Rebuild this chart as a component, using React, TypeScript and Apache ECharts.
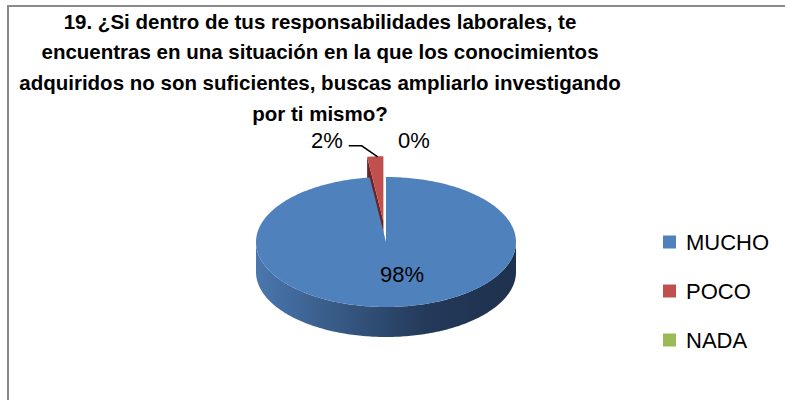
import React, { useEffect, useRef } from 'react';
import * as echarts from 'echarts';

const titleLines = [
  '19. ¿Si dentro de tus responsabilidades laborales, te',
  'encuentras en una situación en la que los conocimientos',
  'adquiridos no son suficientes, buscas ampliarlo investigando',
  'por ti mismo?',
];
const categories = ['MUCHO', 'POCO', 'NADA'];
const values = [98, 2, 0];
const topColors = ['#4f81bd', '#c0504d', '#9bbb59'];

const CX = 386;
const CY = 242;
const RX = 130;
const RY = 65;
const DEPTH = 30;
const FONT = '"Liberation Sans", Arial, sans-serif';

export default function App() {
  const ref = useRef<HTMLDivElement>(null);
  useEffect(() => {
    document.body.style.margin = '0';
    const chart = echarts.init(ref.current!, null, { renderer: 'svg' });
    const total = values.reduce((a, b) => a + b, 0);
    const starts: number[] = [];
    const ends: number[] = [];
    let acc = 0;
    values.forEach((v) => {
      starts.push((acc / total) * 360);
      acc += v;
      ends.push((acc / total) * 360);
    });
    const rad = (d: number) => (d * Math.PI) / 180;
    const pt = (a: number, dx: number, dy: number, h: number, r = 1) => [
      CX + dx + RX * r * Math.sin(rad(a)),
      CY + dy - RY * r * Math.cos(rad(a)) + h,
    ];
    const arc = (a0: number, a1: number, dx: number, dy: number, h: number) => {
      const pts: number[][] = [];
      const n = Math.max(2, Math.ceil(Math.abs(a1 - a0)));
      for (let k = 0; k <= n; k++) pts.push(pt(a0 + ((a1 - a0) * k) / n, dx, dy, h));
      return pts;
    };
    const pct = (v: number) => Math.round((v / total) * 100) + '%';

    const renderSlice = (i: number) => () => {
      const a0 = starts[i];
      const a1 = ends[i];
      const mid = (a0 + a1) / 2;
      const frac = values[i] / total;
      const explode = frac > 0 && frac < 0.05 ? 0.32 : 0;
      const dx = RX * explode * Math.sin(rad(mid));
      const dy = -RY * explode * Math.cos(rad(mid));
      const children: any[] = [];
      const labelStyle = { font: `22px ${FONT}`, fill: '#000' };
      if (a1 > a0) {
        // outer side (front half only)
        const s = Math.max(a0, 90);
        const e = Math.min(a1, 270);
        if (e > s) {
          const top = arc(s, e, dx, dy, 0);
          const bot = arc(s, e, dx, dy, DEPTH).reverse();
          children.push({
            type: 'polygon',
            shape: { points: top.concat(bot) },
            style: {
              fill:
                i === 0
                  ? new echarts.graphic.LinearGradient(1, 0, 0, 0, [
                      { offset: 0, color: '#1e314d' },
                      { offset: 0.35, color: '#243a5a' },
                      { offset: 0.7, color: '#385b87' },
                      { offset: 1, color: '#4a77ae' },
                    ])
                  : '#8b2f2d',
            },
          });
        }
        const cTop = [CX + dx, CY + dy];
        const cBot = [CX + dx, CY + dy + DEPTH];
        if (Math.sin(rad(a0)) < -1e-6) {
          children.push({
            type: 'polygon',
            shape: { points: [cTop, pt(a0, dx, dy, 0), pt(a0, dx, dy, DEPTH), cBot] },
            style: { fill: i === 0 ? '#2c4870' : '#6b2422' },
          });
        }
        if (Math.sin(rad(a1)) > 1e-6) {
          children.push({
            type: 'polygon',
            shape: { points: [cTop, pt(a1, dx, dy, 0), pt(a1, dx, dy, DEPTH), cBot] },
            style: { fill: i === 0 ? '#2c4870' : '#6b2422' },
          });
        }
        children.push({
          type: 'polygon',
          shape: { points: [cTop].concat(arc(a0, a1, dx, dy, 0)) },
          style: { fill: topColors[i] },
        });
      }
      if (frac >= 0.05) {
        const lp = pt(mid, dx, dy, 0, 0.5);
        children.push({
          type: 'text',
          x: lp[0] + 12,
          y: lp[1],
          style: { ...labelStyle, text: pct(values[i]), align: 'center', verticalAlign: 'middle' },
        });
      } else if (frac > 0) {
        const o = pt(mid, dx, dy, 0);
        const end = [o[0] + 2.5, o[1] + 0.5];
        const elbow = [end[0] - 16, end[1] - 11];
        const start = [elbow[0] - 13, elbow[1]];
        children.push({
          type: 'polyline',
          shape: { points: [start, elbow, end] },
          style: { stroke: '#000', lineWidth: 1.5, fill: null },
        });
        children.push({
          type: 'text',
          x: start[0] - 6,
          y: start[1] - 5,
          style: { ...labelStyle, text: pct(values[i]), align: 'right', verticalAlign: 'middle' },
        });
      } else {
        const o = pt(a0, 0, 0, 0);
        children.push({
          type: 'text',
          x: o[0] + 12,
          y: o[1] - 36.5,
          style: { ...labelStyle, text: pct(values[i]), align: 'left', verticalAlign: 'middle' },
        });
      }
      return { type: 'group', children };
    };

    const zOrder = [3, 1, 2];
    chart.setOption({
      animation: false,
      backgroundColor: '#fff',
      legend: {
        orient: 'vertical',
        left: 663,
        top: 230,
        padding: 0,
        itemWidth: 13,
        itemHeight: 13,
        itemGap: 25,
        icon: 'rect',
        data: categories,
        textStyle: { fontSize: 22, fontFamily: FONT, color: '#000', lineHeight: 24, padding: [0, 0, 0, 5] },
      },
      graphic: [
        {
          type: 'rect',
          shape: { x: 8, y: 6, width: 800, height: 420 },
          style: { fill: null, stroke: '#8a8a8a', lineWidth: 2 },
          silent: true,
        },
        ...titleLines.map((t, k) => ({
          type: 'text',
          x: 320,
          y: 21 + 30.7 * k,
          style: {
            text: t,
            font: `bold 20.5px ${FONT}`,
            fill: '#000',
            align: 'center',
            verticalAlign: 'middle',
          },
        })),
      ],
      series: categories.map((name, i) => ({
        type: 'custom',
        name,
        coordinateSystem: 'none',
        z: zOrder[i],
        itemStyle: { color: topColors[i] },
        data: [values[i]],
        renderItem: renderSlice(i),
        silent: true,
      })),
    });
    return () => chart.dispose();
  }, []);
  return <div ref={ref} style={{ width: 785, height: 400 }} />;
}
